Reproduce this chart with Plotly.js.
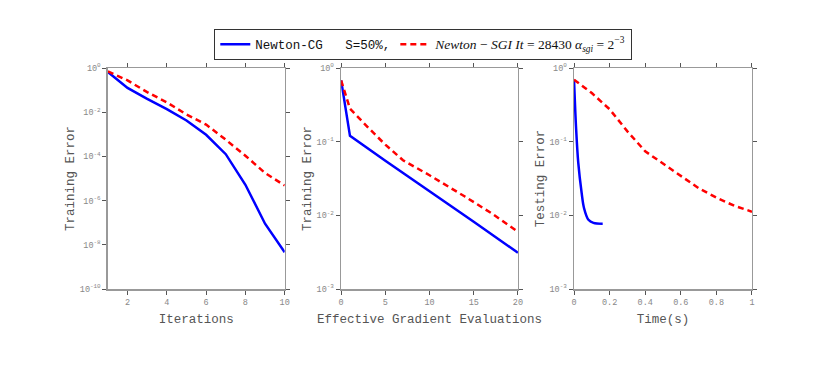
<!DOCTYPE html>
<html>
<head>
<meta charset="utf-8">
<script src="https://cdn.plot.ly/plotly-3.0.1.min.js"></script>
<style>
  html, body { margin: 0; padding: 0; background: white; }
  #chart { width: 830px; height: 371px; }
</style>
</head>
<body>
<div id="chart"></div>
<script>
// Panel 1: training error vs iterations
const iterX = [1, 2, 3, 4, 5, 6, 7, 8, 9, 10];
const iterNewtonCG = [0.66, 0.125, 0.04, 0.0138, 0.0042, 0.00095, 0.000126, 0.0000052, 0.00000009, 0.0000000046];
const iterSGI = [0.7, 0.275, 0.081, 0.028, 0.0079, 0.00275, 0.00057, 0.000107, 0.0000178, 0.0000048];

// Panel 2: training error vs effective gradient evaluations
const evalXCG = [0, 1, 5, 10, 15, 20];
const evalNewtonCG = [0.68, 0.12, 0.055, 0.0215, 0.0082, 0.0031];
const evalXSGI = [0, 1, 3, 5, 7, 10, 14, 17, 20];
const evalSGI = [0.68, 0.28, 0.158, 0.091, 0.056, 0.035, 0.018, 0.0107, 0.006];

// Panel 3: testing error vs time
const timeXCG = [0, 0.011, 0.024, 0.043, 0.056, 0.081, 0.109, 0.161];
const timeNewtonCG = [0.695, 0.162, 0.051, 0.02, 0.0126, 0.0087, 0.0079, 0.0077];
const timeXSGI = [0, 0.1, 0.2, 0.3, 0.4, 0.5, 0.6, 0.7, 0.8, 0.9, 1.0];
const timeSGI = [0.695, 0.457, 0.275, 0.138, 0.074, 0.05, 0.034, 0.0234, 0.0174, 0.0135, 0.0112];

// tick labels
const y1TickVals = [1, 1e-2, 1e-4, 1e-6, 1e-8, 1e-10];
const y1TickText = ['10<sup>0</sup>', '10<sup>-2</sup>', '10<sup>-4</sup>', '10<sup>-6</sup>', '10<sup>-8</sup>', '10<sup>-10</sup>'];
const y23TickVals = [1, 1e-1, 1e-2, 1e-3];
const y23TickText = ['10<sup>0</sup>', '10<sup>-1</sup>', '10<sup>-2</sup>', '10<sup>-3</sup>'];
const x1Ticks = [2, 4, 6, 8, 10];
const x2Ticks = [0, 5, 10, 15, 20];
const x3Ticks = [0, 0.2, 0.4, 0.6, 0.8, 1];
const x3TickText = ['0', '0.2', '0.4', '0.6', '0.8', '1'];

const cgName = '<span style="font-family:\'Liberation Mono\';font-size:12.5px">Newton-CG&nbsp;&nbsp;&nbsp;S=50%,</span>';
const sgiName = '<span style="font-family:\'Liberation Serif\',serif;font-size:13.5px"><i>Newton</i> − <i>SGI It</i> = 28430 <i>α<sub>sgi</sub></i> = 2<sup>−3</sup></span>';

const blue = { color: '#0000ff', width: 2.5 };
const red = { color: '#ff0000', width: 2.5, dash: '6px,4px' };

const traces = [
  { x: iterX, y: iterNewtonCG, xaxis: 'x', yaxis: 'y', mode: 'lines', line: blue, name: cgName },
  { x: iterX, y: iterSGI, xaxis: 'x', yaxis: 'y', mode: 'lines', line: red, name: sgiName },
  { x: evalXCG, y: evalNewtonCG, xaxis: 'x2', yaxis: 'y2', mode: 'lines', line: blue, showlegend: false },
  { x: evalXSGI, y: evalSGI, xaxis: 'x2', yaxis: 'y2', mode: 'lines', line: red, showlegend: false },
  { x: timeXCG, y: timeNewtonCG, xaxis: 'x3', yaxis: 'y3', mode: 'lines', line: Object.assign({}, blue, { shape: 'spline' }), showlegend: false },
  { x: timeXSGI, y: timeSGI, xaxis: 'x3', yaxis: 'y3', mode: 'lines', line: red, showlegend: false }
];

const tickFont = { family: 'Liberation Mono', size: 8.5, color: '#888' };
const titleFont = { family: 'Liberation Mono', size: 12.5, color: '#555' };

function xAxis(domain, range, anchor, vals, text, title) {
  return {
    domain: domain, range: range, anchor: anchor,
    tickvals: vals, ticktext: text,
    showline: true, linecolor: '#999', linewidth: 1.5, mirror: 'ticks',
    ticks: 'outside', ticklen: 4, tickcolor: '#555', tickwidth: 1,
    showgrid: false, zeroline: false,
    tickfont: tickFont,
    title: { text: title, font: titleFont, standoff: 7 }
  };
}
function yAxis(range, anchor, vals, text, title) {
  return {
    type: 'log', domain: [0.221, 0.8167], range: range, anchor: anchor,
    tickvals: vals, ticktext: text,
    showline: true, linecolor: '#999', linewidth: 1.5, mirror: 'ticks',
    ticks: 'outside', ticklen: 4, tickcolor: '#555', tickwidth: 1,
    showgrid: false, zeroline: false,
    tickfont: tickFont,
    title: { text: title, font: titleFont, standoff: 2 }
  };
}

const layout = {
  width: 830, height: 371,
  margin: { l: 0, r: 0, t: 0, b: 0 },
  paper_bgcolor: 'white', plot_bgcolor: 'white',
  showlegend: true,
  legend: {
    orientation: 'h', x: 0.51, xanchor: 'center', y: 0.881, yanchor: 'middle',
    bgcolor: 'white', bordercolor: '#333', borderwidth: 1,
    font: { family: 'Liberation Serif', size: 12, color: '#111' },
    itemwidth: 30, tracegroupgap: 0
  },
  xaxis: xAxis([0.130, 0.343], [1, 10], 'y', x1Ticks, x1Ticks.map(String), 'Iterations'),
  yaxis: yAxis([-10, 0], 'x', y1TickVals, y1TickText, 'Training Error'),
  xaxis2: xAxis([0.411, 0.624], [0, 20], 'y2', x2Ticks, x2Ticks.map(String), 'Effective Gradient Evaluations'),
  yaxis2: yAxis([-3, 0], 'x2', y23TickVals, y23TickText, 'Training Error'),
  xaxis3: xAxis([0.6916, 0.906], [0, 1], 'y3', x3Ticks, x3TickText, 'Time(s)'),
  yaxis3: yAxis([-3, 0], 'x3', y23TickVals, y23TickText, 'Testing Error')
};

Plotly.newPlot('chart', traces, layout, { displayModeBar: false, staticPlot: true });
</script>
</body>
</html>
